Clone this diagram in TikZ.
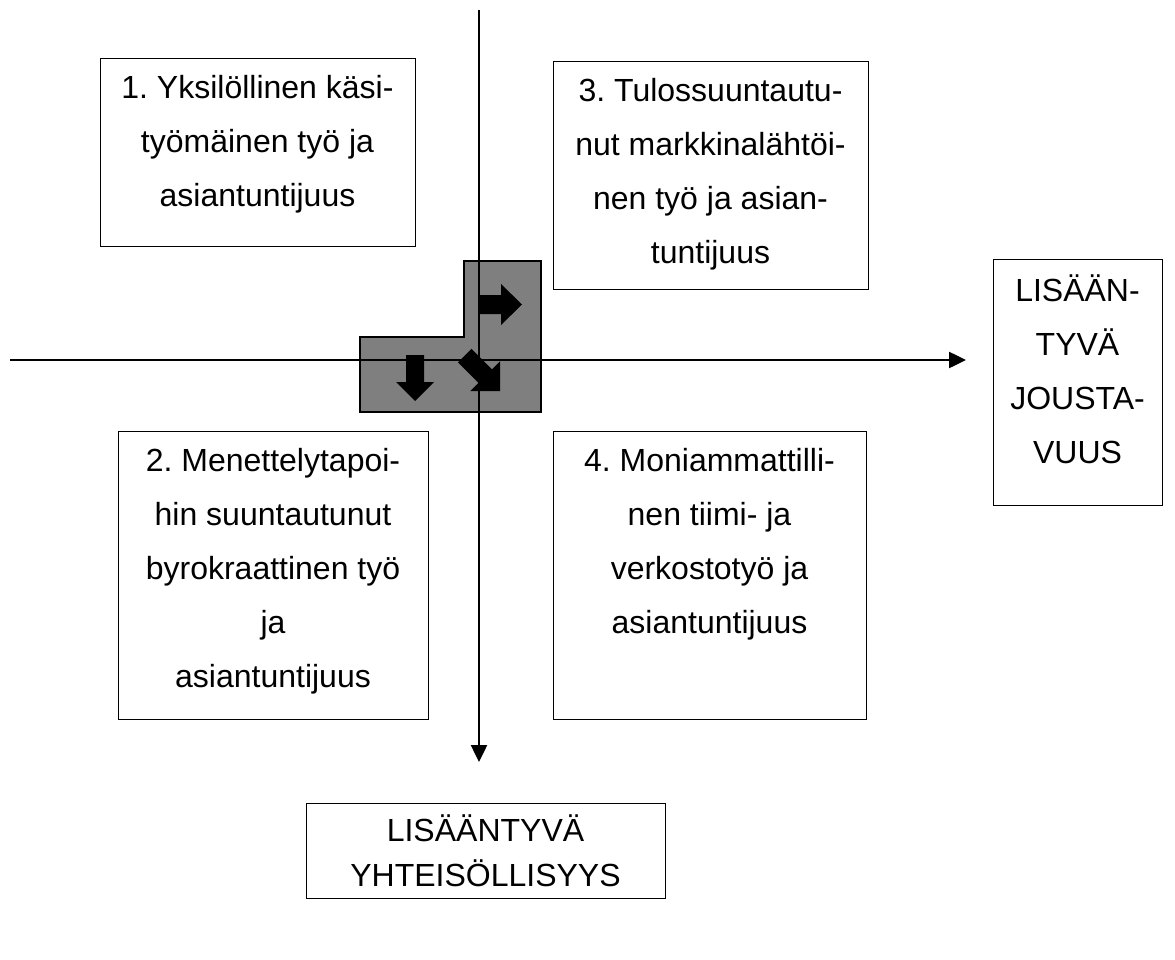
\documentclass[tikz,border=0pt]{standalone}
\usepackage{fontspec}
\setmainfont{Liberation Sans}
\usetikzlibrary{arrows.meta}
\definecolor{panelgray}{HTML}{7F7F7F}
\frenchspacing
\begin{document}
\begin{tikzpicture}[x=1pt,y=-1pt,
  box/.style={draw=black, line width=1.2pt, rectangle, inner sep=0pt, anchor=north west},
  boxtext/.style={align=center, inner sep=0pt, anchor=north, text=black,
                  font=\fontsize{32}{54}\selectfont},
  axisline/.style={line width=2.5pt, -{Triangle[length=17pt,width=16pt]}},
  panel/.style={fill=panelgray, draw=black, line width=2pt, line join=miter},
  blockarrow/.style={fill=black, draw=none},
]
\useasboundingbox (0,0) rectangle (1175,960);

% quadrant boxes
\node[box, minimum width=315pt, minimum height=188pt] (q1) at (100,58) {};
\node[box, minimum width=315pt, minimum height=228pt] (q3) at (553,61) {};
\node[box, minimum width=310pt, minimum height=288pt] (q2) at (118,431) {};
\node[box, minimum width=313pt, minimum height=288pt] (q4) at (553,431) {};
% axis end labels
\node[box, minimum width=169pt, minimum height=246pt] (flex) at (993,259) {};
\node[box, minimum width=359pt, minimum height=95pt] (comm) at (306,803) {};

% box texts (first baseline 30pt below the anchor)
\node[boxtext] (q1t) at (257.5,68)
  {\rule{0pt}{30pt}1. Yksilöllinen käsi-\\työmäinen työ ja\\asiantuntijuus};
\node[boxtext] (q3t) at (710.5,71)
  {\rule{0pt}{30pt}3. Tulossuuntautu-\\nut markkinalähtöi-\\nen työ ja asian-\\tuntijuus};
\node[boxtext] (q2t) at (273,441)
  {\rule{0pt}{30pt}2. Menettelytapoi-\\hin suuntautunut\\byrokraattinen työ\\ja\\asiantuntijuus};
\node[boxtext] (q4t) at (709.5,441)
  {\rule{0pt}{30pt}4. Moniammattilli-\\nen tiimi- ja\\verkostotyö ja\\asiantuntijuus};
\node[boxtext] (flext) at (1077.5,271)
  {\rule{0pt}{30pt}LISÄÄN-\\TYVÄ\\JOUSTA-\\VUUS};
\node[boxtext, font=\fontsize{32}{45}\selectfont] (commt) at (485.5,811)
  {\rule{0pt}{30pt}LISÄÄNTYVÄ\\YHTEISÖLLISYYS};

% grey L-shaped panel at the crossing
\draw[panel] (360,337) -- (464,337) -- (464,261) -- (541,261)
             -- (541,412) -- (360,412) -- cycle;

% axes
\coordinate (vtop) at (479,10);
\coordinate (vbot) at (479,762);
\coordinate (hleft) at (10,360);
\coordinate (hright) at (966,360);
\draw[axisline] (vtop) -- (vbot);
\draw[axisline] (hleft) -- (hright);

% block arrows inside the panel
\fill[blockarrow] (479,295) -- (501,295) -- (501,284) -- (522,304.5)
                  -- (501,325) -- (501,314) -- (479,314) -- cycle;
\fill[blockarrow] (406,355) -- (424,355) -- (424,382) -- (434,382)
                  -- (415,401) -- (396,382) -- (406,382) -- cycle;
\fill[blockarrow] (471.4,348.9) -- (491.9,369.4) -- (500,361.3) -- (500,391)
                  -- (470.3,391) -- (478.4,382.9) -- (457.9,362.4) -- cycle;
\end{tikzpicture}
\end{document}
